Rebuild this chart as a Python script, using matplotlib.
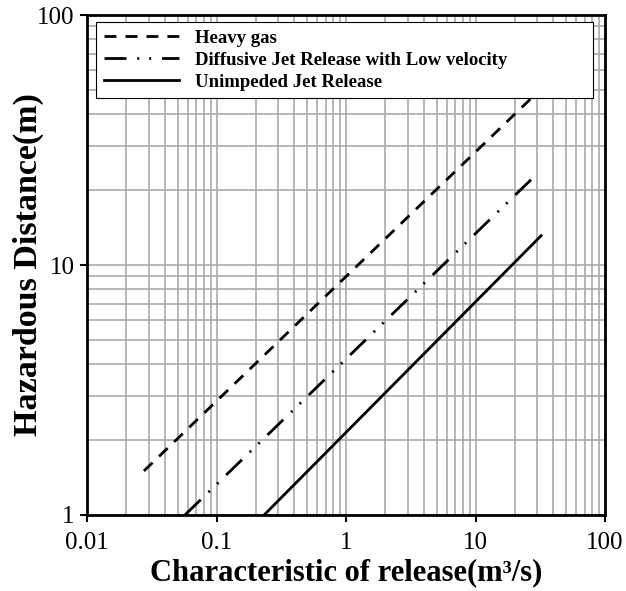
"""Hazardous distance vs characteristic of release (log-log)."""
import matplotlib

matplotlib.use("Agg")
import matplotlib.pyplot as plt
from matplotlib import ticker

# Series (end points of straight lines on log-log axes)
SERIES_NAMES = [
    "Heavy gas",
    "Diffusive Jet Release with Low velocity",
    "Unimpeded Jet Release",
]
HEAVY_X = [0.0275, 32.5]
HEAVY_Y = [1.5, 51.0]
DIFFUSIVE_X = [0.057, 30.5]
DIFFUSIVE_Y = [1.0, 23.4]
UNIMPEDED_X = [0.233, 32.1]
UNIMPEDED_Y = [1.0, 13.1]

X_TICKS = [0.01, 0.1, 1, 10, 100]
Y_TICKS = [1, 10, 100]

plt.rcParams["font.family"] = ["Liberation Serif", "DejaVu Serif"]
plt.rcParams["lines.scale_dashes"] = False

fig = plt.figure(figsize=(6.26, 5.91), dpi=100)
ax = fig.add_axes([0.139, 0.1286, 0.8275, 0.846])

ax.plot(HEAVY_X, HEAVY_Y, color="black", lw=2, dashes=(8.6, 6.5),
        label=SERIES_NAMES[0])
ax.plot(DIFFUSIVE_X, DIFFUSIVE_Y, color="black", lw=2,
        dashes=(15.8, 7.8, 1.4, 7.2, 1.4, 7.8), label=SERIES_NAMES[1])
ax.plot(UNIMPEDED_X, UNIMPEDED_Y, color="black", lw=2, label=SERIES_NAMES[2])

ax.set_xscale("log")
ax.set_yscale("log")
ax.set_xlim(0.01, 100)
ax.set_ylim(1, 100)

ax.xaxis.set_major_locator(ticker.FixedLocator(X_TICKS))
ax.yaxis.set_major_locator(ticker.FixedLocator(Y_TICKS))
ax.xaxis.set_major_formatter(ticker.FuncFormatter(lambda v, _: f"{v:g}"))
ax.yaxis.set_major_formatter(ticker.FuncFormatter(lambda v, _: f"{v:g}"))
ax.xaxis.set_minor_locator(ticker.LogLocator(base=10, subs=range(2, 10), numticks=20))
ax.yaxis.set_minor_locator(ticker.LogLocator(base=10, subs=range(2, 10), numticks=20))
ax.xaxis.set_minor_formatter(ticker.NullFormatter())
ax.yaxis.set_minor_formatter(ticker.NullFormatter())

ax.grid(True, which="both", color="#aaaaaa", lw=1.2)
ax.set_axisbelow(True)
ax.tick_params(which="major", direction="out", length=5, width=1.5,
               labelsize=18)
ax.tick_params(axis="x", which="major", pad=7.5)
ax.tick_params(axis="y", which="major", pad=4)
ax.tick_params(which="minor", length=0)
for spine in ax.spines.values():
    spine.set_linewidth(2)

ax.set_xlabel("Characteristic of release(m³/s)", fontsize=22,
              fontweight="bold", labelpad=3)
ax.set_ylabel("Hazardous Distance(m)", fontsize=24.5, fontweight="bold",
              labelpad=-5)

leg = ax.legend(loc="upper left", bbox_to_anchor=(0.0174, 0.986, 0.96, 0.0),
                mode="expand", borderaxespad=0, fancybox=False,
                edgecolor="black", framealpha=1,
                prop={"weight": "bold", "size": 13.5},
                handlelength=4.0, handletextpad=0.9, labelspacing=0.26,
                borderpad=0.4)
leg.get_frame().set_linewidth(0.8)

fig.savefig("out.png", dpi=100)
